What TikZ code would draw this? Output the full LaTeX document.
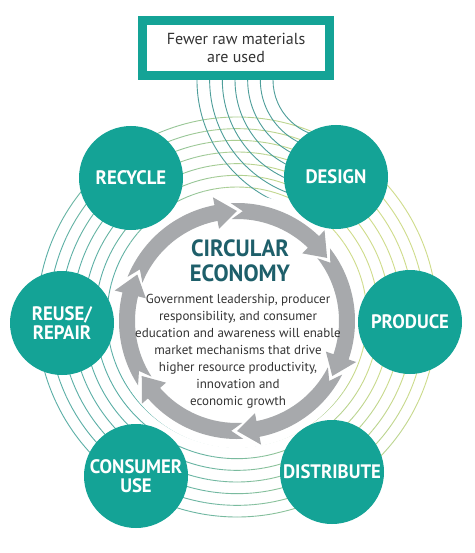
\documentclass[tikz,border=0pt]{standalone}
\usepackage{fontspec}
\setmainfont{PT Sans}
\newfontfamily\lblfont[FakeStretch=0.96]{PT Sans}
\definecolor{teal1}{HTML}{14A396}
\definecolor{tl}{HTML}{5BAFA6}
\definecolor{yl}{HTML}{CFDC8A}
\definecolor{boxline}{HTML}{4E9E9A}
\definecolor{arrowgray}{HTML}{A7A9AC}
\definecolor{ceco}{HTML}{1E5F6A}
\definecolor{txt}{HTML}{333333}
\begin{document}
\begin{tikzpicture}[x=1pt,y=1pt,
  stage/.style={circle,fill=teal1,minimum size=104pt,inner sep=0pt,text=white,
    font=\lblfont\bfseries\fontsize{19.5}{18.5}\selectfont,align=center},
  ringline/.style={line width=0.9pt},
  ringarrow/.style={fill=arrowgray}]
\useasboundingbox (0,0) rectangle (474,-553);
\fill[white] (0,0) rectangle (474,-553);

% concentric rings around the cycle
\begin{scope}[shift={(237,-317)}]
\foreach \i in {0,...,6}{
  \pgfmathsetmacro\rad{130+\i*11.667}
  \foreach \a in {0,5,...,355}{
    \pgfmathtruncatemacro\p{max(0,min(100,50+65*cos(\a+2.5-20)))}
    \draw[ringline,yl!\p!tl] (\a:\rad pt) arc[start angle=\a, end angle=\a+5, radius=\rad pt];
  }
}
\end{scope}

% lines leaving the top box
\begin{scope}[shift={(330,-80)}]
\foreach \i in {0,...,6}{
  \pgfmathsetmacro\rad{57+\i*12.67}
  \draw[ringline,boxline] (180:\rad pt) arc[start angle=180, end angle=270, radius=\rad pt];
}
\end{scope}

\fill[white] (237,-321) circle[radius=127pt];

% grey cycle arrows
\begin{scope}[shift={(237,-321)}]
\foreach \h/\P in {90/155, 35/90, -30/35, -90/-30, -150/-90, -205/-150}{
  \pgfmathsetmacro\hb{\h+11}
  \pgfmathsetmacro\tc{\P+3}
  \pgfmathsetmacro\tn{\P-3}
  \fill[ringarrow] (\tc:118pt) arc[start angle=\tc, end angle=\hb, radius=118pt]
    -- (\hb:126pt) -- (\h:110pt) -- (\hb:94pt) -- (\hb:102pt)
    arc[start angle=\hb, end angle=\tc, radius=102pt] -- (\tn:110pt) -- cycle;
}
\end{scope}

\node[stage] (recycle) at (131,-178) {RECYCLE};
\node[stage] (design) at (336,-177) {DESIGN};
\node[stage] (produce) at (410,-322) {PRODUCE};
\node[stage] (distribute) at (332,-472) {DISTRIBUTE};
\node[stage] (consumer) at (136,-476) {CONSUMER\\USE};
\node[stage] (reuse) at (62,-323) {REUSE/\\REPAIR};

\node[draw=teal1, line width=9pt, fill=white, minimum width=187pt, minimum height=55pt,
  inner sep=0pt, align=center, text=txt, font=\fontsize{16}{18}\selectfont]
  (box) at (236,-48) {Fewer raw materials\\are used};

\node[font=\lblfont\bfseries\fontsize{23.5}{25}\selectfont, text=ceco, align=center]
  (title) at (240,-261) {CIRCULAR\\ECONOMY};
\node[font=\fontsize{13}{17}\selectfont, text=txt, align=center]
  (body) at (238,-351) {Government leadership, producer\\responsibility, and consumer\\education and awareness will enable\\market mechanisms that drive\\higher resource productivity,\\innovation and\\economic growth};
\end{tikzpicture}
\end{document}
